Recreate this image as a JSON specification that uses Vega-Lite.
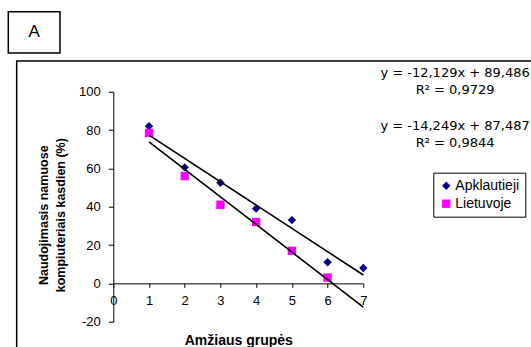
{
  "$schema": "https://vega.github.io/schema/vega-lite/v6.json",
  "width": 250,
  "height": 230,
  "autosize": "none",
  "padding": {"left": 113.3, "top": 91.7, "right": 167.7, "bottom": 25.3},
  "background": "white",
  "config": {
    "view": {"stroke": null},
    "font": "Liberation Sans",
    "axis": {
      "grid": false,
      "domainColor": "black",
      "tickColor": "black",
      "labelColor": "black",
      "titleColor": "black",
      "labelFont": "Liberation Sans",
      "labelFontSize": 13,
      "titleFont": "Liberation Sans",
      "titleFontWeight": "bold",
      "titleFontSize": 12.5,
      "labelFlush": false,
      "labelOverlap": false,
      "domainWidth": 1,
      "tickWidth": 1
    },
    "legend": {
      "orient": "none",
      "legendX": 320,
      "legendY": 81,
      "strokeColor": "black",
      "strokeWidth": 1,
      "fillColor": "white",
      "padding": 6,
      "labelFont": "Liberation Sans",
      "labelFontSize": 14,
      "labelColor": "black",
      "symbolSize": 70,
      "rowPadding": 4,
      "labelOffset": 2
    }
  },
  "resolve": {"axis": {"x": "independent", "y": "independent"}},
  "data": {
    "values": [
      {"group": 1, "value": 82, "series": "Apklautieji"},
      {"group": 2, "value": 60.5, "series": "Apklautieji"},
      {"group": 3, "value": 52.5, "series": "Apklautieji"},
      {"group": 4, "value": 39, "series": "Apklautieji"},
      {"group": 5, "value": 33, "series": "Apklautieji"},
      {"group": 6, "value": 11, "series": "Apklautieji"},
      {"group": 7, "value": 8, "series": "Apklautieji"},
      {"group": 1, "value": 78.5, "series": "Lietuvoje"},
      {"group": 2, "value": 56, "series": "Lietuvoje"},
      {"group": 3, "value": 41, "series": "Lietuvoje"},
      {"group": 4, "value": 32, "series": "Lietuvoje"},
      {"group": 5, "value": 17, "series": "Lietuvoje"},
      {"group": 6, "value": 3, "series": "Lietuvoje"}
    ]
  },
  "layer": [
    {
      "mark": {"type": "point", "filled": true, "opacity": 1, "size": 70},
      "encoding": {
        "x": {
          "field": "group", "type": "quantitative",
          "scale": {"domain": [0, 7], "nice": false},
          "axis": {
            "title": "Amžiaus grupės",
            "orient": "bottom",
            "offset": -38.33,
            "values": [0, 1, 2, 3, 4, 5, 6, 7],
            "labelOverlap": false,
            "tickSize": 4,
            "labelPadding": 7,
            "titleY": 57,
            "titleBaseline": "middle",
            "titleFontSize": 14
          }
        },
        "y": {
          "field": "value", "type": "quantitative",
          "scale": {"domain": [-20, 100], "nice": false},
          "axis": {
            "title": ["Naudojimasis namuose", "kompiuteriais kasdien (%)"],
            "orient": "left",
            "values": [-20, 0, 20, 40, 60, 80, 100],
            "labelOverlap": false,
            "labelExpr": "'' + datum.value",
            "tickSize": 5,
            "labelPadding": 8,
            "titleAngle": -90,
            "titleX": -70,
            "titleY": 123,
            "titleAlign": "center",
            "titleBaseline": "middle",
            "titleLineHeight": 17
          }
        },
        "color": {
          "field": "series", "type": "nominal",
          "scale": {"domain": ["Apklautieji", "Lietuvoje"], "range": ["#000080", "#FF00FF"]},
          "legend": {"title": null}
        },
        "shape": {
          "field": "series", "type": "nominal",
          "scale": {"domain": ["Apklautieji", "Lietuvoje"], "range": ["diamond", "square"]},
          "legend": {"title": null}
        }
      }
    },
    {
      "transform": [
        {"regression": "value", "on": "group", "groupby": ["series"], "extent": [1, 7]}
      ],
      "mark": {"type": "line", "color": "black", "strokeWidth": 1.6},
      "encoding": {
        "x": {"field": "group", "type": "quantitative", "scale": {"domain": [0, 7], "nice": false}, "axis": null},
        "y": {"field": "value", "type": "quantitative", "scale": {"domain": [-20, 100], "nice": false}, "axis": null},
        "detail": {"field": "series"}
      }
    },
    {
      "data": {"values": [{}]},
      "mark": {"type": "rect", "fill": "transparent", "stroke": "black", "strokeWidth": 1.5, "clip": false},
      "encoding": {
        "x": {"datum": -2.705, "type": "quantitative", "scale": {"domain": [0, 7], "nice": false}, "axis": null},
        "x2": {"datum": 12},
        "y": {"datum": 116, "type": "quantitative", "scale": {"domain": [-20, 100], "nice": false}, "axis": null},
        "y2": {"datum": -40}
      }
    },
    {
      "data": {"values": [{}]},
      "mark": {"type": "rect", "fill": "transparent", "stroke": "black", "strokeWidth": 1.5, "clip": false},
      "encoding": {
        "x": {"datum": -2.94, "type": "quantitative", "scale": {"domain": [0, 7], "nice": false}, "axis": null},
        "x2": {"datum": -1.493},
        "y": {"datum": 141.7, "type": "quantitative", "scale": {"domain": [-20, 100], "nice": false}, "axis": null},
        "y2": {"datum": 120.2}
      }
    },
    {
      "data": {"values": [{}]},
      "mark": {"type": "text", "text": "A", "font": "Liberation Sans", "fontSize": 17, "align": "center", "baseline": "middle", "color": "black"},
      "encoding": {
        "x": {"datum": -2.217, "type": "quantitative", "scale": {"domain": [0, 7], "nice": false}, "axis": null},
        "y": {"datum": 130.9, "type": "quantitative", "scale": {"domain": [-20, 100], "nice": false}, "axis": null}
      }
    },
    {
      "data": {"values": [{}]},
      "mark": {"type": "text", "text": "y = -12,129x + 89,486", "font": "DejaVu Sans", "fontSize": 13, "align": "center", "baseline": "middle", "color": "black"},
      "encoding": {
        "x": {"datum": 9.57, "type": "quantitative", "scale": {"domain": [0, 7], "nice": false}, "axis": null},
        "y": {"datum": 109.8, "type": "quantitative", "scale": {"domain": [-20, 100], "nice": false}, "axis": null}
      }
    },
    {
      "data": {"values": [{}]},
      "mark": {"type": "text", "text": "R² = 0,9729", "font": "DejaVu Sans", "fontSize": 13, "align": "center", "baseline": "middle", "color": "black"},
      "encoding": {
        "x": {"datum": 9.57, "type": "quantitative", "scale": {"domain": [0, 7], "nice": false}, "axis": null},
        "y": {"datum": 100.9, "type": "quantitative", "scale": {"domain": [-20, 100], "nice": false}, "axis": null}
      }
    },
    {
      "data": {"values": [{}]},
      "mark": {"type": "text", "text": "y = -14,249x + 87,487", "font": "DejaVu Sans", "fontSize": 13, "align": "center", "baseline": "middle", "color": "black"},
      "encoding": {
        "x": {"datum": 9.57, "type": "quantitative", "scale": {"domain": [0, 7], "nice": false}, "axis": null},
        "y": {"datum": 82.1, "type": "quantitative", "scale": {"domain": [-20, 100], "nice": false}, "axis": null}
      }
    },
    {
      "data": {"values": [{}]},
      "mark": {"type": "text", "text": "R² = 0,9844", "font": "DejaVu Sans", "fontSize": 13, "align": "center", "baseline": "middle", "color": "black"},
      "encoding": {
        "x": {"datum": 9.57, "type": "quantitative", "scale": {"domain": [0, 7], "nice": false}, "axis": null},
        "y": {"datum": 73.2, "type": "quantitative", "scale": {"domain": [-20, 100], "nice": false}, "axis": null}
      }
    }
  ]
}
